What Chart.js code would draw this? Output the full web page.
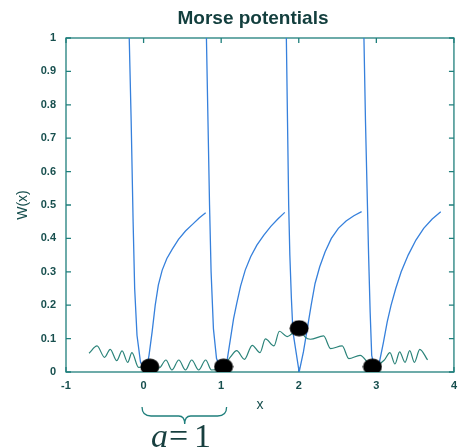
<!DOCTYPE html>
<html>
<head>
<meta charset="utf-8">
<script src="https://cdn.jsdelivr.net/npm/chart.js@4"></script>
<style>
  html, body { margin: 0; padding: 0; background: #fff; }
</style>
</head>
<body>
<canvas id="graph" width="464" height="448"></canvas>
<script>
const xTicks = [-1, 0, 1, 2, 3, 4];
const yTicks = [0, 0.1, 0.2, 0.3, 0.4, 0.5, 0.6, 0.7, 0.8, 0.9, 1];

// four Morse wells, [x, W(x)]
const morse1 = [[-0.185, 1], [-0.16, 0.75], [-0.135, 0.45], [-0.115, 0.25], [-0.085, 0.11], [-0.04, 0.03],
  [0.03, 0], [0.07, 0.05], [0.11, 0.12], [0.15, 0.2], [0.19, 0.26], [0.24, 0.305], [0.3, 0.34], [0.37, 0.368],
  [0.45, 0.397], [0.54, 0.422], [0.63, 0.442], [0.72, 0.462], [0.8, 0.477]];
const morse2 = [[0.81, 1], [0.83, 0.75], [0.85, 0.5], [0.87, 0.3], [0.9, 0.13], [0.94, 0.04],
  [1.02, 0], [1.08, 0.04], [1.12, 0.1], [1.16, 0.16], [1.2, 0.205], [1.25, 0.257], [1.31, 0.305], [1.38, 0.345],
  [1.46, 0.38], [1.55, 0.41], [1.64, 0.436], [1.73, 0.458], [1.82, 0.478]];
const morse3 = [[1.84, 1], [1.855, 0.75], [1.87, 0.5], [1.885, 0.35], [1.905, 0.22], [1.925, 0.12],
  [2.005, 0], [2.06, 0.06], [2.11, 0.13], [2.16, 0.2], [2.21, 0.265], [2.27, 0.315], [2.34, 0.36],
  [2.42, 0.4], [2.51, 0.43], [2.61, 0.452], [2.71, 0.468], [2.81, 0.48]];
const morse4 = [[2.84, 1], [2.86, 0.75], [2.88, 0.55], [2.9, 0.35], [2.92, 0.18], [2.94, 0.05],
  [2.99, 0], [3.04, 0.03], [3.09, 0.087], [3.14, 0.15], [3.19, 0.2], [3.25, 0.25], [3.32, 0.3],
  [3.41, 0.35], [3.51, 0.395], [3.61, 0.43], [3.72, 0.458], [3.83, 0.48]];

// atoms sitting in the wells
const atoms = [[0.08, 0.016], [1.03, 0.016], [2.005, 0.131], [2.95, 0.016]];

// spring joining the atoms
const spring = [
  [-0.703, 0.056], [-0.6, 0.078], [-0.503, 0.044], [-0.43, 0.068], [-0.346, 0.034], [-0.277, 0.063],
  [-0.205, 0.029], [-0.15, 0.058], [-0.065, 0.014], [0.08, 0.016],
  [0.2, 0.012], [0.288, 0.036], [0.365, 0.006], [0.454, 0.036], [0.54, 0.006], [0.62, 0.036],
  [0.71, 0.006], [0.8, 0.036], [0.875, 0.006], [1.03, 0.016],
  [1.12, 0.045], [1.2, 0.064], [1.3, 0.038], [1.4, 0.08], [1.5, 0.058], [1.57, 0.099],
  [1.68, 0.078], [1.75, 0.122], [1.85, 0.106], [2.005, 0.131],
  [2.08, 0.105], [2.15, 0.098], [2.32, 0.108], [2.41, 0.07], [2.56, 0.078], [2.645, 0.04],
  [2.79, 0.05], [2.95, 0.016],
  [3.1, 0.035], [3.175, 0.058], [3.24, 0.024], [3.3, 0.06], [3.37, 0.029], [3.43, 0.064],
  [3.49, 0.029], [3.56, 0.068], [3.66, 0.036]
];

const axisColor = '#1f7f7c';
const textColor = '#174f4e';
const wellColor = '#3680dc';
const springColor = '#2a8379';

// slightly wide black blob for the atoms
const atomImg = document.createElement('canvas');
atomImg.width = 20;
atomImg.height = 17;
const actx = atomImg.getContext('2d');
actx.fillStyle = '#000';
actx.beginPath();
actx.ellipse(10, 8.5, 9.5, 8, 0, 0, 2 * Math.PI);
actx.fill();

function wellSet (data) {
  return {
    data: data,
    borderColor: wellColor,
    borderWidth: 1.3,
    pointRadius: 0,
    tension: 0,
    order: 2
  };
}

const frame = {
  id: 'frame',
  beforeDatasetsDraw (chart) {
    const {ctx, chartArea: a, scales: {x, y}} = chart;
    const tick = 5;
    ctx.save();
    ctx.strokeStyle = axisColor;
    ctx.lineWidth = 1.3;
    ctx.strokeRect(a.left, a.top, a.right - a.left, a.bottom - a.top);
    ctx.beginPath();
    xTicks.forEach((v) => {
      const px = x.getPixelForValue(v);
      ctx.moveTo(px, a.bottom); ctx.lineTo(px, a.bottom - tick);
      ctx.moveTo(px, a.top); ctx.lineTo(px, a.top + tick);
    });
    yTicks.forEach((v) => {
      const py = y.getPixelForValue(v);
      ctx.moveTo(a.left, py); ctx.lineTo(a.left + tick, py);
      ctx.moveTo(a.right, py); ctx.lineTo(a.right - tick, py);
    });
    ctx.stroke();
    ctx.restore();
  },
  afterDraw (chart) {
    const {ctx, scales: {x}} = chart;
    ctx.save();

    // title
    ctx.fillStyle = '#123e3d';
    ctx.font = 'bold 19px "Liberation Sans", Arial, sans-serif';
    ctx.textAlign = 'center';
    ctx.textBaseline = 'middle';
    ctx.fillText('Morse potentials', 253, 19);

    // brace under the first lattice cell
    const x0 = x.getPixelForValue(-0.02);
    const x1 = x.getPixelForValue(1.07);
    const xm = x.getPixelForValue(0.53);
    const yt = 407, yb = 416, ytip = 424;
    ctx.strokeStyle = axisColor;
    ctx.lineWidth = 1.3;
    ctx.beginPath();
    ctx.moveTo(x0, yt);
    ctx.quadraticCurveTo(x0, yb, x0 + 9, yb);
    ctx.lineTo(xm - 6, yb);
    ctx.quadraticCurveTo(xm, yb, xm, ytip);
    ctx.quadraticCurveTo(xm, yb, xm + 6, yb);
    ctx.lineTo(x1 - 9, yb);
    ctx.quadraticCurveTo(x1, yb, x1, yt);
    ctx.stroke();

    // lattice constant
    ctx.fillStyle = '#173f3f';
    ctx.textAlign = 'left';
    ctx.textBaseline = 'alphabetic';
    ctx.font = 'italic 34px "Liberation Serif", "Times New Roman", serif';
    ctx.fillText('a', 151, 447);
    ctx.font = '34px "Liberation Serif", "Times New Roman", serif';
    ctx.fillText('=', 169, 447);
    ctx.fillText('1', 194, 447);
    ctx.restore();
  }
};

const tickFont = { size: 11, weight: 'bold', family: '"Liberation Sans", Arial, sans-serif' };
const titleFont = { size: 14, family: '"Liberation Sans", Arial, sans-serif' };

const chart = new Chart(document.getElementById('graph'), {
  type: 'line',
  data: {
    datasets: [
      {
        data: atoms,
        showLine: false,
        pointStyle: atomImg,
        pointRadius: 9,
        order: 0
      },
      {
        data: spring,
        borderColor: springColor,
        borderWidth: 1.2,
        pointRadius: 0,
        cubicInterpolationMode: 'monotone',
        order: 1
      },
      wellSet(morse1),
      wellSet(morse2),
      wellSet(morse3),
      wellSet(morse4)
    ]
  },
  options: {
    responsive: false,
    animation: false,
    layout: {
      padding: { top: 38, right: 4, bottom: 34.6, left: 0 }
    },
    plugins: {
      legend: { display: false },
      tooltip: { enabled: false }
    },
    scales: {
      x: {
        type: 'linear',
        min: -1,
        max: 4,
        afterBuildTicks: (s) => { s.ticks = xTicks.map((v) => ({ value: v })); },
        afterFit: (s) => { s.height = 41.4; },
        grid: { display: false, drawTicks: false },
        border: { display: false },
        ticks: {
          padding: 7,
          color: textColor,
          font: tickFont,
          maxRotation: 0
        },
        title: {
          display: true,
          text: 'x',
          color: textColor,
          padding: { top: 0, bottom: 0 },
          font: titleFont
        }
      },
      y: {
        type: 'linear',
        min: 0,
        max: 1,
        afterBuildTicks: (s) => { s.ticks = yTicks.map((v) => ({ value: v })); },
        afterFit: (s) => { s.width = 66; },
        grid: { display: false, drawTicks: false },
        border: { display: false },
        ticks: {
          padding: 10,
          color: textColor,
          font: tickFont,
          callback: (v) => String(Math.round(v * 10) / 10)
        },
        title: {
          display: true,
          text: 'W(x)',
          color: textColor,
          padding: { top: 14.6, bottom: 0 },
          font: titleFont
        }
      }
    }
  },
  plugins: [frame]
});
</script>
</body>
</html>
